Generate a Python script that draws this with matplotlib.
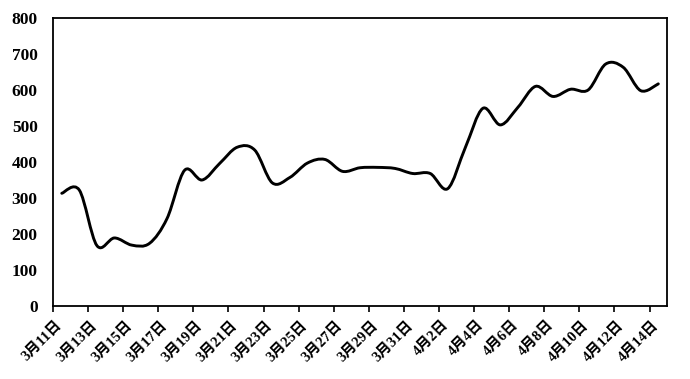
import matplotlib
matplotlib.use("Agg")
import matplotlib.pyplot as plt
import matplotlib.transforms as mtransforms
from matplotlib.path import Path
from matplotlib.patches import PathPatch
from matplotlib.ticker import FixedLocator
import numpy as np

# ---- data ----
dates = ([f"3月{d}日" for d in range(11, 32)] + [f"4月{d}日" for d in range(1, 15)])
values = [313, 322, 168, 189, 169, 174, 243, 377, 350, 396,
          441, 433, 342, 357, 397, 407, 374, 384, 385, 382,
          368, 368, 326, 440, 549, 503, 552, 610, 582, 602,
          600, 672, 663, 598, 617]
yticks = [0, 100, 200, 300, 400, 500, 600, 700, 800]

plt.rcParams['font.family'] = ['Liberation Serif', 'Noto Sans CJK SC']
plt.rcParams['font.weight'] = 'bold'

fig = plt.figure(figsize=(6.9, 3.79), dpi=100)
ax = fig.add_axes([0.0768, 0.1926, 0.89, 0.76])

x = np.arange(len(values))
y = np.array(values, dtype=float)

# Excel-like smoothed line: cubic Bezier segments through every point
verts = [(x[0], y[0])]
codes = [Path.MOVETO]
n = len(x)
for i in range(n - 1):
    p0 = np.array([x[max(i - 1, 0)], y[max(i - 1, 0)]])
    p1 = np.array([x[i], y[i]])
    p2 = np.array([x[i + 1], y[i + 1]])
    p3 = np.array([x[min(i + 2, n - 1)], y[min(i + 2, n - 1)]])
    c1 = p1 + (p2 - p0) / 6.0
    c2 = p2 - (p3 - p1) / 6.0
    verts += [tuple(c1), tuple(c2), tuple(p2)]
    codes += [Path.CURVE4] * 3
ax.add_patch(PathPatch(Path(verts, codes), facecolor='none', edgecolor='black',
                       lw=2.1, capstyle='round', joinstyle='round'))

ax.set_xlim(-0.5, len(values) - 0.5)
ax.set_ylim(0, 800)

ax.set_yticks(yticks)
ax.set_yticklabels([str(v) for v in yticks], fontsize=12.5, fontweight='bold')
ax.tick_params(axis='y', length=0, pad=11)

label_pos = list(range(0, len(values), 2))
ax.set_xticks(label_pos)
ax.set_xticklabels([dates[i] for i in label_pos], rotation=45, ha='right',
                   rotation_mode='default', fontsize=10.5, fontweight='bold')
ax.tick_params(axis='x', which='major', length=0, pad=9)
offset = mtransforms.ScaledTranslation(3 / 100, 0, fig.dpi_scale_trans)
for lbl in ax.get_xticklabels():
    lbl.set_transform(lbl.get_transform() + offset)
ax.xaxis.set_minor_locator(FixedLocator([p - 0.5 for p in label_pos]))
ax.tick_params(axis='x', which='minor', length=4, width=1.2, direction='out', color='black')

for s in ax.spines.values():
    s.set_linewidth(1.3)
    s.set_color('black')

fig.savefig("out.png", dpi=100)
